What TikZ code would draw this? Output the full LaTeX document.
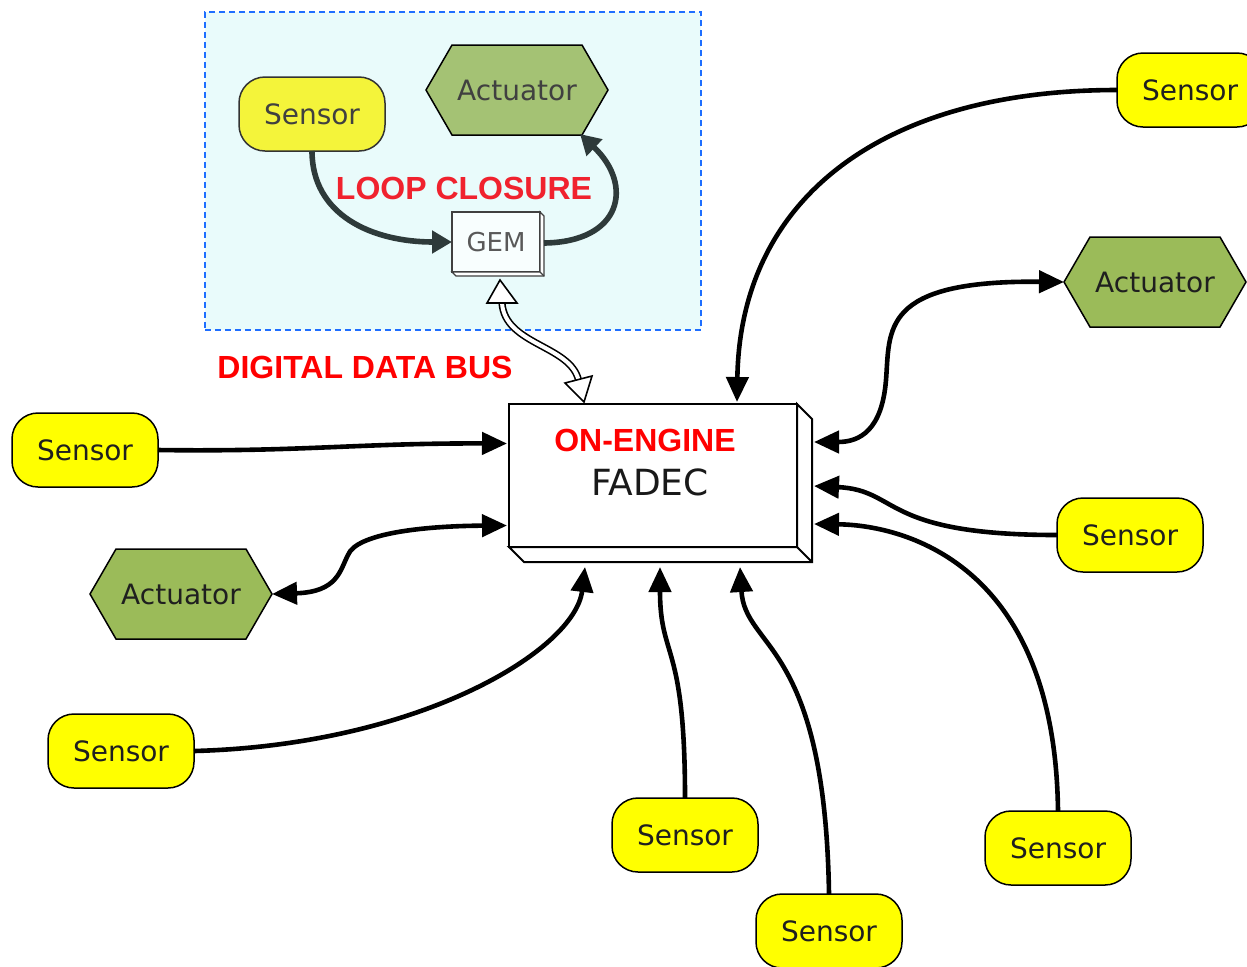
\documentclass[tikz,border=0pt]{standalone}
\usepackage{fontspec}
\setmainfont{DejaVu Sans}
\newfontfamily\capsfont{Liberation Sans}
\usetikzlibrary{arrows.meta,calc}

\definecolor{sensorfill}{HTML}{FFFF00}
\definecolor{actfill}{HTML}{9BBB59}
\definecolor{sensorpale}{HTML}{F4F43A}
\definecolor{actpale}{HTML}{A4C274}
\definecolor{panelfill}{HTML}{E9FBFB}
\definecolor{panelblue}{HTML}{1E6EFF}
\definecolor{tagred}{HTML}{FF0000}
\definecolor{looptag}{HTML}{F0222E}
\definecolor{loopgray}{HTML}{2E3A3A}

% hexagonal actuator: name, x, y, fill, text
\newcommand\hexactuator[5]{%
  \draw[hexedge, fill=#4] ({#2-91},#3) -- ({#2-65},{#3-45}) -- ({#2+65},{#3-45})
    -- ({#2+91},#3) -- ({#2+65},{#3+45}) -- ({#2-65},{#3+45}) -- cycle;
  \node[acttext] (#1) at (#2,#3) {#5};}

\tikzset{
  sensor/.style={draw=black, line width=0.75pt, fill=sensorfill, rounded corners=13pt,
    minimum width=73pt, minimum height=37pt, inner sep=0pt, outer sep=0pt,
    text=black!88, font=\fontsize{14}{16}\selectfont},
  panelsensor/.style={sensor, fill=sensorpale, draw=black!80, text=black!75},
  hexedge/.style={draw=black, line width=0.75pt, line join=miter},
  acttext/.style={minimum width=91pt, minimum height=45pt, inner sep=0pt, outer sep=0pt,
    text=black!88, font=\fontsize{14}{16}\selectfont},
  fadecbox/.style={draw=black, line width=1pt, fill=white, minimum width=144pt,
    minimum height=71.5pt, inner sep=0pt, outer sep=0pt},
  boxedge/.style={draw=black, line width=1pt, fill=white, line join=miter},
  gembox/.style={draw=black!75, line width=0.6pt, fill=white!70!panelfill, minimum width=44pt,
    minimum height=30pt, inner sep=0pt, outer sep=0pt, text=black!65,
    font=\fontsize{13}{15}\selectfont},
  gemedge/.style={draw=black!75, line width=0.6pt, fill=white, line join=miter},
  redtag/.style={text=tagred, font=\capsfont\bfseries\fontsize{16}{18}\selectfont, inner sep=0pt},
  nametag/.style={text=black!90, font=\fontsize{18}{20}\selectfont, inner sep=0pt},
  link/.style={draw=black, line width=2.3pt, -{Triangle[length=12.5pt,width=11pt]}},
  duplex/.style={draw=black, line width=2.3pt,
    {Triangle[length=12.5pt,width=11pt]}-{Triangle[length=12.5pt,width=11pt]}},
  looplink/.style={draw=loopgray, line width=2.8pt, -{Triangle[length=10pt,width=11pt]}},
  busline/.style={draw=black, line width=0.8pt, double=white, double distance=2pt},
  bushead/.style={draw=black, line width=0.8pt, fill=white, line join=miter},
  panel/.style={draw=panelblue, line width=1pt, dash pattern=on 3pt off 2pt, fill=panelfill,
    minimum width=248pt, minimum height=159pt, inner sep=0pt, outer sep=0pt},
}

\begin{document}
\begin{tikzpicture}[x=0.5pt, y=-0.5pt]
\useasboundingbox (0,0) rectangle (1247,966);
\clip (0,0) rectangle (1247,966);

% ---------- loop closure panel ----------
\node[panel] (panel) at (453,171) {};
\node[panelsensor] (lsens) at (312,114) {Sensor};
\hexactuator{lact}{517}{90}{actpale}{\textcolor{black!75}{Actuator}}
\node[gembox] (gem) at (496,242) {GEM};
\draw[gemedge] (gem.north east) -- ++(4,4) -- ($(gem.south east)+(4,4)$)
  -- ($(gem.south west)+(4,4)$) -- (gem.south west) -- (gem.south east) -- cycle;
\draw[gemedge] (gem.south east) -- ++(4,4);
\node[redtag, text=looptag] (looptxt) at (464,188) {LOOP CLOSURE};
\draw[looplink] (lsens.south) .. controls (312,215) and (372,242) .. (gem.west);
\draw[looplink] ($(gem.east)+(4,1)$) .. controls (622,242) and (634,185) .. ($(lact.south)+(63,-1)$);

% ---------- engine controller ----------
\node[fadecbox] (fadec) at (653,475.5) {};
\draw[boxedge] (fadec.north east) -- ++(15,15) -- ($(fadec.south east)+(15,15)$)
  -- ($(fadec.south west)+(15,15)$) -- (fadec.south west) -- (fadec.south east) -- cycle;
\draw[boxedge] (fadec.south east) -- ++(15,15);
\node[redtag] (fadectag) at ($(fadec.center)+(-8,-35)$) {ON-ENGINE};
\node[nametag] (fadecname) at ($(fadec.center)+(-3,6.5)$) {FADEC};

% ---------- digital data bus ----------
\node[redtag] (bustxt) at (365,367) {DIGITAL DATA BUS};
\draw[busline] ($(gem.south)+(6,31)$) .. controls (505,345) and (570,345)
  .. ($(fadec.north)+(-74.5,-24)$);
\draw[bushead] ($(gem.south)+(4,8)$) -- ($(gem.south)+(-9,31)$) -- ($(gem.south)+(21,31)$) -- cycle;
\draw[bushead] ($(fadec.north)+(-69,-2)$) -- ($(fadec.north)+(-88,-21)$)
  -- ($(fadec.north)+(-61,-28)$) -- cycle;

% ---------- field devices ----------
\node[sensor] (sW1) at (85,450) {Sensor};
\hexactuator{aW}{181}{594}{actfill}{Actuator}
\node[sensor] (sW2) at (121,751) {Sensor};
\node[sensor] (sS1) at (685,835) {Sensor};
\node[sensor] (sS2) at (829,931) {Sensor};
\node[sensor] (sS3) at (1058,848) {Sensor};
\node[sensor] (sE) at (1130,535) {Sensor};
\hexactuator{aE}{1155}{282}{actfill}{Actuator}
\node[sensor] (sNE) at (1190,90) {Sensor};

% ---------- connectors ----------
\draw[link] (sW1.east) .. controls (300,452) and (360,443) .. ($(fadec.west)+(-2,-32)$);
\draw[duplex] (aW.east) .. controls (338,592) and (340,570) .. (348,555)
  .. controls (356,534) and (420,526) .. ($(fadec.west)+(-2,50)$);
\draw[link] (sW2.east) .. controls (420,745) and (575,650) .. ($(fadec.south)+(-68,20)$);
\draw[link] (sS1.north) .. controls (685,640) and (660,660) .. ($(fadec.south)+(7,20)$);
\draw[link] (sS2.north) .. controls (825,640) and (745,650) .. ($(fadec.south)+(87,20)$);
\draw[link] (sS3.north) .. controls (1055,560) and (900,525) .. ($(fadec.east)+(17,48.5)$);
\draw[link] (sE.west) .. controls (880,535) and (900,490) .. ($(fadec.east)+(17,10.5)$);
\draw[duplex] (aE.west) .. controls (880,280) and (890,330) .. (886,380)
  .. controls (882,430) and (860,442) .. ($(fadec.east)+(17,-33.5)$);
\draw[link] (sNE.west) .. controls (880,90) and (740,200) .. ($(fadec.north)+(84,-2)$);
\end{tikzpicture}
\end{document}
